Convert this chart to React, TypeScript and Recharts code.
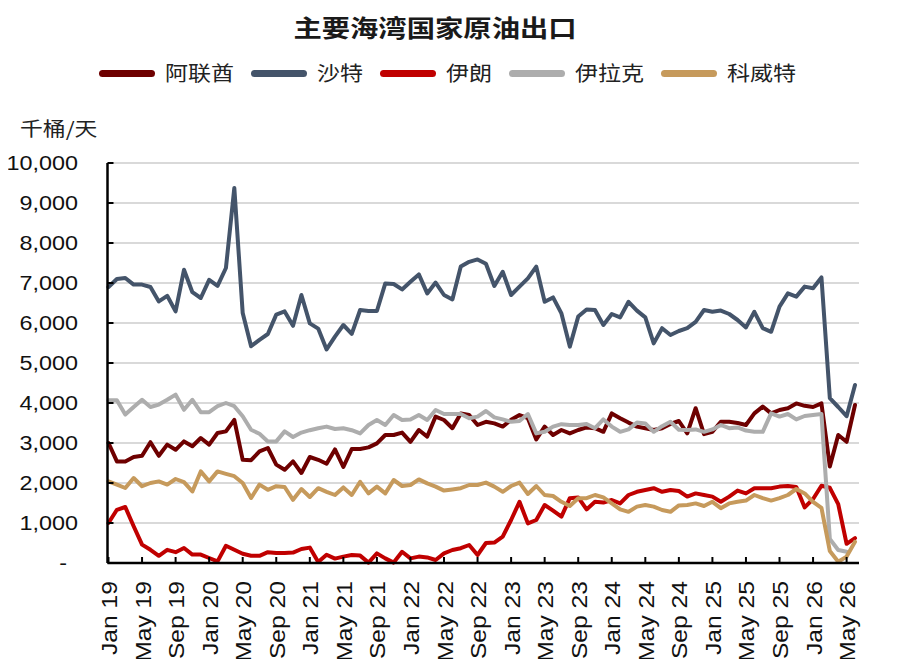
import React from 'react';
import { LineChart, Line, XAxis, YAxis, CartesianGrid } from 'recharts';

// ---- categories ----
const MONTH_NAMES = ['Jan', 'Feb', 'Mar', 'Apr', 'May', 'Jun', 'Jul', 'Aug', 'Sep', 'Oct', 'Nov', 'Dec'];
const YEARS = ['19', '20', '21', '22', '23', '24', '25', '26'];
const CATEGORIES = YEARS.flatMap((y) => MONTH_NAMES.map((m) => `${m} ${y}`)).slice(0, 90);

// ---- series values (千桶/天), Jan 19 .. Jun 26 ----
const UAE = [
  3000, 2540, 2540, 2650, 2680, 3020, 2680, 2960, 2830, 3040, 2920, 3125,
  2960, 3250, 3290, 3580, 2580, 2570, 2790, 2875, 2460, 2330, 2540, 2250,
  2650, 2580, 2480, 2840, 2400, 2850, 2850, 2890, 2990, 3200, 3200, 3260,
  3030, 3325, 3160, 3660, 3575, 3370, 3740, 3700, 3450, 3530, 3490, 3410,
  3580, 3700, 3620, 3090, 3410, 3200, 3325, 3240, 3325, 3390, 3370, 3280,
  3740, 3620, 3510, 3410, 3370, 3325, 3370, 3475, 3550, 3240, 3870, 3220,
  3280, 3530, 3530, 3500, 3450, 3740, 3910, 3740, 3825, 3870, 3990, 3930,
  3900, 3990, 2410, 3200, 3030, 3950,
];
const SAUDI = [
  6900, 7100, 7125, 6960, 6960, 6900, 6540, 6680, 6290, 7330, 6770, 6625,
  7080, 6930, 7375, 9375, 6250, 5420, 5580, 5725, 6210, 6290, 5930, 6700,
  5990, 5860, 5340, 5660, 5950, 5730, 6325, 6300, 6300, 6990, 6975, 6840,
  7030, 7215, 6740, 7010, 6700, 6590, 7410, 7530, 7590, 7480, 6925, 7280,
  6700, 6910, 7115, 7410, 6530, 6640, 6240, 5410, 6160, 6340, 6325, 5950,
  6225, 6140, 6530, 6310, 6140, 5490, 5870, 5700, 5800, 5870, 6030, 6325,
  6280, 6310, 6225, 6075, 5890, 6280, 5870, 5780, 6410, 6740, 6660, 6910,
  6870, 7140, 4120, 3900, 3670, 4450,
];
const IRAN = [
  1000, 1330, 1400, 920, 460, 330, 180, 330, 270, 375, 210, 210,
  125, 40, 430, 330, 230, 180, 180, 270, 250, 250, 260, 350,
  385, 25, 205, 110, 160, 200, 185, 10, 240, 115, 10, 280,
  115, 160, 140, 75, 240, 325, 370, 450, 200, 500, 510, 660,
  1075, 1530, 990, 1075, 1450, 1310, 1160, 1620, 1640, 1340, 1530, 1510,
  1575, 1490, 1700, 1780, 1825, 1870, 1780, 1825, 1800, 1660, 1740, 1700,
  1660, 1530, 1660, 1810, 1740, 1870, 1870, 1870, 1910, 1925, 1900, 1390,
  1600, 1930, 1880, 1470, 480, 620,
];
const IRAQ = [
  4070, 4070, 3710, 3900, 4080, 3900, 3960, 4080, 4210, 3830, 4080, 3770,
  3770, 3920, 4000, 3920, 3670, 3330, 3230, 3040, 3040, 3290, 3150, 3260,
  3320, 3370, 3410, 3350, 3370, 3320, 3240, 3450, 3575, 3450, 3700, 3575,
  3590, 3700, 3575, 3825, 3725, 3725, 3725, 3620, 3660, 3800, 3640, 3590,
  3530, 3550, 3725, 3240, 3280, 3410, 3470, 3450, 3450, 3475, 3370, 3590,
  3410, 3280, 3340, 3510, 3490, 3280, 3420, 3530, 3330, 3325, 3340, 3280,
  3340, 3450, 3370, 3390, 3310, 3280, 3280, 3740, 3660, 3725, 3590, 3675,
  3700, 3725, 600, 325, 280, null,
];
const KUWAIT = [
  2040, 1960, 1875, 2125, 1920, 2000, 2040, 1960, 2100, 2020, 1790, 2290,
  2040, 2290, 2230, 2170, 2000, 1625, 1960, 1830, 1920, 1900, 1580, 1850,
  1650, 1870, 1780, 1700, 1890, 1700, 2030, 1740, 1910, 1740, 2075, 1925,
  1950, 2090, 1990, 1910, 1810, 1840, 1870, 1950, 1950, 2010, 1910, 1780,
  1925, 2010, 1725, 1925, 1700, 1675, 1530, 1425, 1620, 1620, 1700, 1640,
  1490, 1340, 1280, 1410, 1450, 1410, 1325, 1280, 1440, 1450, 1490, 1425,
  1530, 1370, 1490, 1530, 1560, 1700, 1620, 1560, 1620, 1700, 1850, 1740,
  1530, 1380, 300, 30, 160, 530,
];

const Y_TICKS = [0, 1000, 2000, 3000, 4000, 5000, 6000, 7000, 8000, 9000, 10000];

const TITLE = '主要海湾国家原油出口';
const UNIT = '千桶/天';

const SERIES = [
  { key: 'uae', name: '阿联酋', color: '#6e0000', values: UAE },
  { key: 'saudi', name: '沙特', color: '#44546a', values: SAUDI },
  { key: 'iran', name: '伊朗', color: '#c00000', values: IRAN },
  { key: 'iraq', name: '伊拉克', color: '#adadad', values: IRAQ },
  { key: 'kuwait', name: '科威特', color: '#c69a5c', values: KUWAIT },
];

const DATA = CATEGORIES.map((month, i) => {
  const row: Record<string, string | number | null> = { month };
  SERIES.forEach((s) => {
    row[s.key] = s.values[i] ?? null;
  });
  return row;
});

const LATIN = '"Liberation Sans", Arial, Helvetica, sans-serif';
const CJK = '"Noto Sans CJK SC", "Noto Sans", sans-serif';

const XTick = (props: any) => {
  const { x, y, payload } = props;
  return (
    <g>
      <line x1={x} x2={x} y1={y - 6} y2={y} stroke="#000" strokeWidth={2} />
      <g transform={`translate(${x + 1},${y + 18}) rotate(-90)`}>
        <text
          transform="scale(1.12,1)"
          textAnchor="end"
          dominantBaseline="central"
          fontSize={22}
          fontFamily={LATIN}
          fill="#111"
        >
          {payload.value}
        </text>
      </g>
    </g>
  );
};

const YTick = (props: any) => {
  const { x, y, payload } = props;
  const v = payload.value as number;
  const label = v === 0 ? '-' : v.toLocaleString('en-US');
  const tx = v === 0 ? x - 40.5 : x - 29.5;
  return (
    <g>
      <line x1={x} x2={x + 6} y1={y} y2={y} stroke="#000" strokeWidth={2} />
      <text
        transform={`translate(${tx},${y}) scale(1.14,1)`}
        textAnchor="end"
        dominantBaseline="central"
        fontSize={20.5}
        fontFamily={LATIN}
        fill="#111"
      >
        {label}
      </text>
    </g>
  );
};

const LEGEND_START = 91;
const LEGEND_Y = 65;
const CHAR_W = 23;

function legendLayout() {
  let cx = LEGEND_START;
  return SERIES.map((s) => {
    const lineX = cx;
    const textX = cx + 66;
    const textEnd = textX + s.name.length * CHAR_W;
    cx = textEnd + 17;
    return { ...s, lineX, textX };
  });
}

export default function App() {
  const legend = legendLayout();
  return (
    <div style={{ position: 'relative', width: 884, height: 651, background: '#fff' }}>
      <div
        style={{
          position: 'absolute',
          left: 0,
          top: 7,
          width: 854,
          textAlign: 'center',
          lineHeight: 1,
          whiteSpace: 'nowrap',
        }}
      >
        <span
          style={{
            display: 'inline-block',
            transform: 'scaleX(1.18)',
            fontFamily: CJK,
            fontWeight: 700,
            fontSize: 24,
            lineHeight: 1,
            color: '#1a1a1a',
          }}
        >
          {TITLE}
        </span>
      </div>

      {legend.map((s) => (
        <React.Fragment key={s.key}>
          <div
            style={{
              position: 'absolute',
              left: s.lineX,
              top: LEGEND_Y - 3.5,
              width: 56,
              height: 7,
              borderRadius: 3.5,
              background: s.color,
            }}
          />
          <div
            style={{
              position: 'absolute',
              left: s.textX,
              top: LEGEND_Y - 10,
              height: 20,
              lineHeight: '20px',
              fontSize: 20,
              fontFamily: CJK,
              color: '#222',
              whiteSpace: 'nowrap',
              transform: 'scaleX(1.15)',
              transformOrigin: 'left center',
            }}
          >
            {s.name}
          </div>
        </React.Fragment>
      ))}

      <div
        style={{
          position: 'absolute',
          left: 12,
          top: 120 - 10,
          height: 20,
          lineHeight: '20px',
          fontSize: 19.5,
          fontFamily: CJK,
          color: '#222',
          whiteSpace: 'nowrap',
          transform: 'scaleX(1.17)',
          transformOrigin: 'left center',
        }}
      >
        {UNIT}
      </div>

      <div style={{ position: 'absolute', left: 0, top: 0, width: 884, height: 659 }}>
        <LineChart
          width={884}
          height={659}
          data={DATA}
          margin={{ top: 155, right: 33, bottom: 0, left: 0 }}
        >
          <CartesianGrid horizontal vertical={false} stroke="#d9d9d9" strokeWidth={2} />
          <XAxis
            dataKey="month"
            type="category"
            scale="point"
            interval={3}
            padding={{ left: 1, right: 4 }}
            height={104}
            tickSize={0}
            tickMargin={0}
            tickLine={false}
            axisLine={{ stroke: '#000', strokeWidth: 2.5 }}
            tick={(p: any) => <XTick {...p} />}
          />
          <YAxis
            type="number"
            domain={[0, 10000]}
            ticks={Y_TICKS}
            interval={0}
            width={99.5}
            tickSize={0}
            tickMargin={0}
            tickLine={false}
            axisLine={{ stroke: '#000', strokeWidth: 2.5 }}
            tick={(p: any) => <YTick {...p} />}
          />
          {SERIES.map((s) => (
            <Line
              key={s.key}
              dataKey={s.key}
              name={s.name}
              type="linear"
              stroke={s.color}
              strokeWidth={4}
              strokeLinejoin="round"
              strokeLinecap="round"
              dot={false}
              activeDot={false}
              isAnimationActive={false}
              connectNulls={false}
            />
          ))}
        </LineChart>
      </div>
    </div>
  );
}
